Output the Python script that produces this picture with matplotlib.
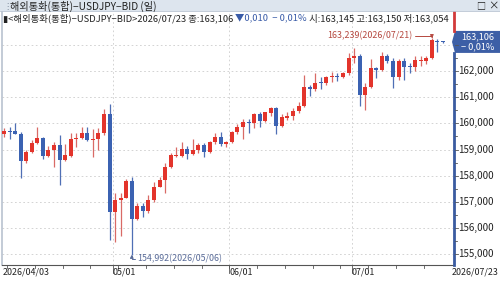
import numpy as np
import pandas as pd
import matplotlib
matplotlib.use("Agg")
import matplotlib.pyplot as plt
from matplotlib.patches import Rectangle, Polygon

plt.rcParams["font.family"] = ["Noto Sans CJK KR", "DejaVu Sans"]

# 일봉 데이터 (2026/04/03 ~ 2026/07/23, 영업일 기준)
dates = pd.bdate_range("2026-04-03", "2026-07-23")
opens = [159.61, 159.68, 159.69, 159.61, 158.58, 158.92, 159.26, 159.43, 158.77, 158.98,
         159.16, 158.60, 158.77, 159.40, 159.43, 159.62, 159.36, 159.39, 159.62, 160.34,
         156.60, 157.07, 157.16, 157.81, 156.35, 156.84, 156.67, 157.07, 157.58, 157.84,
         158.35, 158.76, 158.77, 159.02, 158.83, 158.98, 159.17, 158.89, 159.29, 159.49,
         159.21, 159.27, 159.67, 159.87, 160.06, 160.01, 160.34, 160.10, 160.40, 160.57,
         159.90, 160.22, 160.29, 160.47, 160.66, 161.38, 161.31, 161.56, 161.53, 161.76,
         161.78, 161.76, 161.91, 162.50, 162.57, 161.08, 161.40, 162.10, 162.04, 162.57,
         162.39, 161.76, 162.39, 162.16, 162.14, 162.39, 162.39, 162.48, 163.16, 163.145]
highs = [159.81, 159.85, 160.03, 159.68, 159.00, 159.36, 159.87, 159.49, 159.13, 159.30,
         159.55, 159.21, 159.62, 159.62, 159.87, 159.87, 159.78, 159.81, 160.53, 160.74,
         157.33, 157.33, 157.89, 157.96, 156.97, 156.97, 157.26, 157.77, 157.96, 158.47,
         158.85, 159.11, 159.27, 159.13, 159.39, 159.26, 159.26, 159.33, 159.62, 159.66,
         159.34, 159.72, 159.97, 160.17, 160.17, 160.38, 160.42, 160.45, 160.61, 160.64,
         160.34, 160.45, 160.57, 160.83, 161.84, 161.48, 161.91, 161.76, 161.81, 161.97,
         161.91, 161.97, 162.67, 162.86, 162.63, 161.55, 162.44, 162.16, 162.74, 162.65,
         162.48, 162.44, 162.48, 162.29, 162.57, 162.57, 162.57, 163.239, 163.21, 163.150]
lows = [159.49, 159.40, 159.58, 157.93, 158.50, 158.88, 159.21, 158.63, 158.70, 158.32,
        157.65, 158.56, 158.73, 159.11, 159.39, 159.33, 158.73, 159.00, 159.55, 155.55,
        155.48, 155.70, 157.14, 154.992, 156.31, 156.44, 156.59, 157.00, 157.55, 157.33,
        158.28, 158.73, 158.73, 158.63, 158.79, 158.85, 158.70, 158.85, 159.21, 159.13,
        159.11, 159.24, 159.59, 159.39, 159.62, 159.81, 159.87, 160.06, 160.28, 159.59,
        159.85, 160.13, 160.13, 160.38, 160.64, 161.05, 161.22, 161.31, 161.47, 161.56,
        161.60, 161.72, 161.85, 162.31, 160.66, 160.51, 161.34, 161.72, 162.01, 162.29,
        161.34, 161.66, 161.66, 161.91, 162.01, 162.19, 162.25, 162.44, 162.74, 163.054]
closes = [159.71, 159.67, 159.61, 158.58, 158.92, 159.26, 159.43, 158.77, 158.98, 159.16,
          158.60, 158.79, 159.40, 159.45, 159.62, 159.36, 159.40, 159.62, 160.34, 156.60,
          157.07, 157.16, 157.81, 156.35, 156.84, 156.67, 157.07, 157.58, 157.84, 158.35,
          158.79, 158.79, 159.02, 158.83, 158.98, 159.17, 158.89, 159.29, 159.49, 159.21,
          159.27, 159.67, 159.87, 160.06, 160.01, 160.34, 160.10, 160.42, 160.57, 159.90,
          160.25, 160.29, 160.47, 160.66, 161.40, 161.31, 161.54, 161.53, 161.78, 161.79,
          161.76, 161.91, 162.50, 162.57, 161.08, 161.40, 162.10, 162.04, 162.57, 162.39,
          161.76, 162.39, 162.16, 162.14, 162.42, 162.42, 162.48, 163.18, 163.116, 163.106]

month_labels = ["05/01", "06/01", "07/01"]
y_ticks = [155, 156, 157, 158, 159, 160, 161, 162, 163]

title = "해외통화(통합)−USDJPY−BID (일)"
info_parts = [("▮<해외통화(통합)−USDJPY−BID>2026/07/23 종:163,106 ", "#222222"),
              ("▼0,010  − 0,01%", "#3a5ca8"),
              (" 시:163,145 고:163,150 저:163,054", "#222222")]

RED = "#e3342b"
BLUE = "#3b62b2"
RED_W = "#d96a66"
BLUE_W = "#4f6fb5"

W, H = 500, 281
fig = plt.figure(figsize=(5, 2.81), dpi=100)
fig.patch.set_facecolor("white")


def px(x, y):
    return x / W, 1 - y / H


ax = fig.add_axes([2 / W, 1 - 265 / H, 451 / W, 253 / H])
ax.set_facecolor("white")

n = len(closes)
idx = np.arange(n)
o = np.array(opens)
c = np.array(closes)
hi = np.array(highs)
lo = np.array(lows)
up = c >= o
col = np.where(up, RED, BLUE)
wcol = np.where(up, RED_W, BLUE_W)

ax.vlines(idx, lo, hi, colors=wcol, linewidth=0.9, zorder=2)
body_bottom = np.minimum(o, c)
body_h = np.maximum(np.abs(c - o), 0.035)
ax.bar(idx, body_h, bottom=body_bottom, width=0.72, color=col, linewidth=0, zorder=3)

ax.set_xlim(-0.36, 80.8)
ax.set_ylim(154.592, 164.248)

# 월 경계 격자
month_pos = [i for i in range(1, n) if dates[i].month != dates[i - 1].month]
for p in month_pos:
    ax.axvline(p - 0.45, color="#cccccc", linestyle=(0, (2, 3)), linewidth=0.6, zorder=1)
for t in y_ticks:
    ax.axhline(t, color="#cccccc", linestyle=(0, (2, 3)), linewidth=0.6, zorder=1)

ax.set_xticks([])
ax.set_yticks([])
for s in ["top", "right"]:
    ax.spines[s].set_visible(False)
ax.spines["left"].set_color("#b9c2cf")
ax.spines["left"].set_linewidth(1.2)
ax.spines["bottom"].set_color("#555555")
ax.spines["bottom"].set_linewidth(0.8)

# 주간 눈금 (아래)
mondays = [i for i in range(n) if dates[i].weekday() == 0]
for i in mondays:
    ax.plot([i - 0.45, i - 0.45], [0, -0.012], transform=ax.get_xaxis_transform(),
            color="#555555", linewidth=0.6, clip_on=False)
for p in month_pos:
    ax.plot([p - 0.45, p - 0.45], [0, -0.03], transform=ax.get_xaxis_transform(),
            color="#555555", linewidth=0.6, clip_on=False)

# x축 라벨
xl_y = 1 - 272 / H
fig.text(3 / W, xl_y, dates[0].strftime("%Y/%m/%d"), fontsize=6.4, color="#222222",
         va="center", ha="left")
for p, lab in zip(month_pos, month_labels):
    xf = ax.transData.transform((p - 0.45, 0))[0] / W / (fig.dpi / 100)
    fig.text(xf, xl_y, lab, fontsize=6.4, color="#222222", va="center", ha="left")
fig.text(499 / W, xl_y, dates[-1].strftime("%Y/%m/%d"), fontsize=6.4, color="#222222",
         va="center", ha="right")

# 오른쪽 가격축
y_box = ax.transData.transform((0, closes[-1]))[1] / (fig.dpi / 100)
y_top_px = H - (y_box + 11)
y_bot_px = H - (y_box - 11)
fig.add_artist(plt.Line2D([454 / W, 454 / W], [1 - 12 / H, 1 - y_top_px / H],
                          color="#d23a3a", linewidth=2))
fig.add_artist(plt.Line2D([454 / W, 454 / W], [1 - y_bot_px / H, 1 - 265 / H],
                          color="#3a5ba0", linewidth=2))
for t in y_ticks:
    yf = ax.transData.transform((0, t))[1] / (fig.dpi / 100) / H
    fig.add_artist(plt.Line2D([455 / W, 458 / W], [yf, yf], color="#555555", linewidth=0.6))
    if t != 163:
        fig.text(458 / W, yf, f"{t:,.3f}".replace(",", " ").replace(".", ",").replace(" ", ""),
                 fontsize=7, color="#222222", va="center", ha="left")
for t in y_ticks[:-1]:
    yf = ax.transData.transform((0, t + 0.5))[1] / (fig.dpi / 100) / H
    fig.add_artist(plt.Line2D([455 / W, 457 / W], [yf, yf], color="#555555", linewidth=0.6))

# 현재가 박스
bx0, by0 = px(455, y_bot_px)
bx1, by1 = px(500, y_top_px)
fig.add_artist(Polygon([(bx0 - 3 / W, y_box / H), (bx0, by1), (bx1, by1), (bx1, by0), (bx0, by0)],
                       closed=True, facecolor="#3d5fa6", edgecolor="none",
                       transform=fig.transFigure))
fig.text(478 / W, (y_box + 5) / H, "163,106", fontsize=6.6, color="white", ha="center", va="center")
fig.text(478 / W, (y_box - 5) / H, "− 0,01%", fontsize=6.6, color="white", ha="center", va="center")

# 최고/최저 표시
imax = int(np.argmax(hi))
imin = int(np.argmin(lo))
ax.annotate(f"{hi[imax]:.3f}".replace(".", ",") + f"({dates[imax]:%Y/%m/%d})",
            xy=(imax, hi[imax]), xytext=(-14, 2), textcoords="offset points",
            fontsize=6.4, color="#b5483f", ha="right", va="center",
            arrowprops=dict(arrowstyle="-|>", color="#b5483f", lw=0.7, mutation_scale=5,
                            connectionstyle="angle,angleA=0,angleB=90,rad=0",
                            shrinkA=0, shrinkB=0))
ax.annotate(f"{lo[imin]:.3f}".replace(".", ",") + f"({dates[imin]:%Y/%m/%d})",
            xy=(imin, lo[imin]), xytext=(4, -3), textcoords="offset points",
            fontsize=6.4, color="#5a6c99", ha="left", va="center",
            arrowprops=dict(arrowstyle="-|>", color="#5a6c99", lw=0.7, mutation_scale=5,
                            connectionstyle="angle,angleA=0,angleB=90,rad=0",
                            shrinkA=0, shrinkB=0))

# 상단 제목 바
fig.add_artist(Rectangle((0, 1 - 11 / H), 1, 11 / H, transform=fig.transFigure,
                         facecolor="#dde5ee", edgecolor="none"))
fig.add_artist(plt.Line2D([0, 1], [1 - 11 / H, 1 - 11 / H], color="#b9c4d2", linewidth=0.6))
fig.text(3 / W, 1 - 6 / H, "⋮", fontsize=6, color="#7a8797", va="center", ha="left")
fig.text(10 / W, 1 - 6 / H, title, fontsize=7.3, color="#222222", va="center", ha="left")
fig.text(476 / W, 1 - 6 / H, "□", fontsize=6.5, color="#222222", va="center", ha="left")
fig.text(488 / W, 1 - 6 / H, "×", fontsize=7.5, color="#222222", va="center", ha="left")

# 정보 줄
renderer = fig.canvas.get_renderer()
xpos = 3
for txt, colr in info_parts:
    t = fig.text(xpos / W, 1 - 18 / H, txt, fontsize=6.75, color=colr, va="center", ha="left")
    bb = t.get_window_extent(renderer)
    xpos = bb.x1 / (fig.dpi / 100)

fig.savefig("out.png", dpi=100)
